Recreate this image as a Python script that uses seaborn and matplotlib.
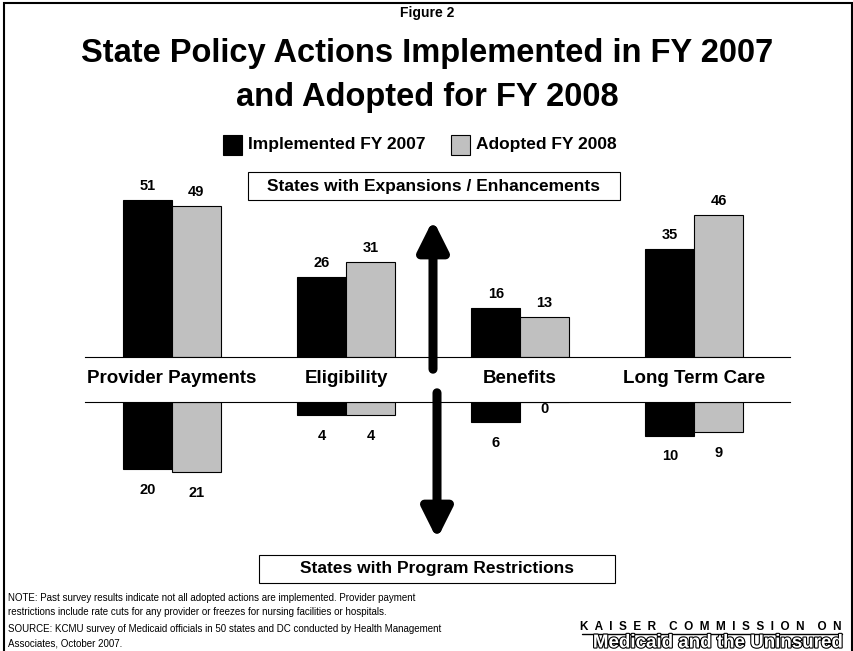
import pandas as pd
import matplotlib.pyplot as plt
import matplotlib.patheffects as pe
from matplotlib.patches import Rectangle
import seaborn as sns

# chart data
categories = ['Provider Payments', 'Eligibility', 'Benefits', 'Long Term Care']
series = ['Implemented FY 2007', 'Adopted FY 2008']
expansions_2007 = [51, 26, 16, 35]
expansions_2008 = [49, 31, 13, 46]
restrictions_2007 = [20, 4, 6, 10]
restrictions_2008 = [21, 4, 0, 9]

colors = {'Implemented FY 2007': '#000000', 'Adopted FY 2008': '#C0C0C0'}


def long_form(a, b):
    rows = []
    for cat, v in zip(categories, a):
        rows.append({'Category': cat, 'Series': series[0], 'Value': v})
    for cat, v in zip(categories, b):
        rows.append({'Category': cat, 'Series': series[1], 'Value': v})
    return pd.DataFrame(rows)


def px(x, y):
    # pixel position (from top-left) -> figure fraction
    return x / 854, 1 - y / 651


df_up = long_form(expansions_2007, expansions_2008)
df_down = long_form(restrictions_2007, restrictions_2008)

sns.set_style('white')
plt.rcParams['font.family'] = ['Liberation Sans', 'DejaVu Sans']
plt.rcParams['text.color'] = 'black'
plt.rcParams['xtick.color'] = 'black'

fig = plt.figure(figsize=(8.54, 6.51), dpi=100)

# upper panel: expansions
ax_up = fig.add_axes([0.0995, 0.4516, 0.8255, 0.2602])
sns.barplot(data=df_up, x='Category', y='Value', hue='Series', palette=colors,
            width=0.56, edgecolor='black', linewidth=0.8, ax=ax_up, legend=False)
ax_up.set_xlim(-0.5, 3.55)
ax_up.set_ylim(0, 55)
ax_up.set_yticks([])
ax_up.set_xlabel('')
ax_up.set_ylabel('')
ax_up.tick_params(axis='x', length=0, pad=9)
ax_up.set_xticks(range(len(categories)))
ax_up.set_xticklabels(categories, fontsize=13.5, fontweight='bold')
for s in ['top', 'left', 'right']:
    ax_up.spines[s].set_visible(False)
ax_up.spines['bottom'].set_color('black')
ax_up.spines['bottom'].set_linewidth(0.8)
for cont in ax_up.containers:
    ax_up.bar_label(cont, padding=5, fontsize=10.5, fontweight='bold')

# lower panel: restrictions (bars hang down)
ax_dn = fig.add_axes([0.0995, 0.2538, 0.8255, 0.1287])
sns.barplot(data=df_down, x='Category', y='Value', hue='Series', palette=colors,
            width=0.56, edgecolor='black', linewidth=0.8, ax=ax_dn, legend=False)
ax_dn.set_xlim(-0.5, 3.55)
ax_dn.set_ylim(25, 0)
ax_dn.set_yticks([])
ax_dn.set_xticks([])
ax_dn.set_xlabel('')
ax_dn.set_ylabel('')
for s in ['bottom', 'left', 'right']:
    ax_dn.spines[s].set_visible(False)
ax_dn.spines['top'].set_color('black')
ax_dn.spines['top'].set_linewidth(0.8)
for cont in ax_dn.containers:
    ax_dn.bar_label(cont, padding=10, fontsize=10.5, fontweight='bold')

# titles
fig.text(0.5, 0.980, 'Figure 2', ha='center', va='center', fontsize=10, fontweight='bold')
fig.text(0.5, 0.918, 'State Policy Actions Implemented in FY 2007', ha='center', va='center',
         fontsize=23.5, fontweight='bold')
fig.text(0.5, 0.850, 'and Adopted for FY 2008', ha='center', va='center',
         fontsize=23.5, fontweight='bold')

# legend
fig.patches.append(Rectangle(px(223, 155), 19 / 854, 20 / 651, transform=fig.transFigure,
                             facecolor='black', edgecolor='black', lw=0.8))
fig.text(*px(248, 145), 'Implemented FY 2007', va='center', fontsize=12.5, fontweight='bold')
fig.patches.append(Rectangle(px(451, 155), 19 / 854, 20 / 651, transform=fig.transFigure,
                             facecolor='#C0C0C0', edgecolor='black', lw=0.8))
fig.text(*px(476, 145), 'Adopted FY 2008', va='center', fontsize=12.5, fontweight='bold')

# boxed labels
fig.patches.append(Rectangle(px(248, 200), 372 / 854, 28 / 651, transform=fig.transFigure,
                             facecolor='white', edgecolor='black', lw=0.8))
fig.text(*px(434, 186), 'States with Expansions / Enhancements', ha='center', va='center',
         fontsize=12.5, fontweight='bold')
fig.patches.append(Rectangle(px(259, 583), 356 / 854, 28 / 651, transform=fig.transFigure,
                             facecolor='white', edgecolor='black', lw=0.8))
fig.text(*px(437, 569), 'States with Program Restrictions', ha='center', va='center',
         fontsize=12.5, fontweight='bold')

# arrows
arrow = dict(arrowstyle='-|>,head_length=1.8,head_width=0.9', color='black', lw=6.5)
fig.add_artist(plt.Annotation('', xy=px(433, 217), xytext=px(433, 372),
                              xycoords='figure fraction', textcoords='figure fraction', arrowprops=arrow))
fig.add_artist(plt.Annotation('', xy=px(437, 542), xytext=px(437, 390),
                              xycoords='figure fraction', textcoords='figure fraction', arrowprops=arrow))

# footnotes
fig.text(*px(8, 598), 'NOTE: Past survey results indicate not all adopted actions are implemented. Provider payment',
         fontsize=7, va='center')
fig.text(*px(8, 612), 'restrictions include rate cuts for any provider or freezes for nursing facilities or hospitals.',
         fontsize=7, va='center')
fig.text(*px(8, 629), 'SOURCE: KCMU survey of Medicaid officials in 50 states and DC conducted by Health Management',
         fontsize=7, va='center')
fig.text(*px(8, 643), 'Associates, October 2007.', fontsize=7, va='center')

# logo text
fig.text(*px(842, 627), 'K  A  I  S  E  R    C  O  M  M  I  S  S  I  O  N    O  N', ha='right',
         va='center', fontsize=8.5, fontweight='bold')
fig.add_artist(plt.Line2D([582 / 854, 842 / 854], [1 - 634 / 651, 1 - 634 / 651], color='black', lw=1))
t = fig.text(*px(842, 643), 'Medicaid and the Uninsured', ha='right', va='center',
             fontsize=13.5, fontweight='bold', color='white')
t.set_path_effects([pe.Stroke(linewidth=1.6, foreground='black'), pe.Normal()])

# frame around the slide
fig.patches.append(Rectangle((4 / 854, -0.01), 848 / 854, 1.0 - 3 / 651 + 0.01, transform=fig.transFigure,
                             facecolor='none', edgecolor='black', lw=1.5))

fig.savefig('out.png', dpi=100)
